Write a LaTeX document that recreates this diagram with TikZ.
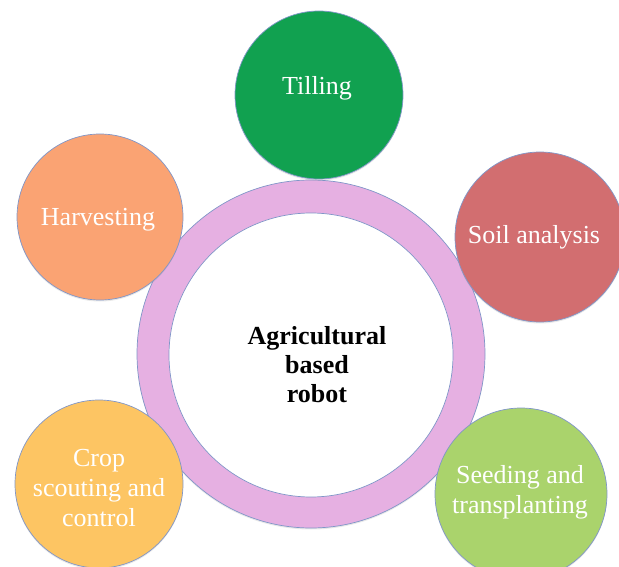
\documentclass[tikz,border=0pt]{standalone}
\usepackage{fontspec}
\setmainfont{Liberation Serif}
\usetikzlibrary{shadows}

\definecolor{edgeblue}{HTML}{8096C8}
\definecolor{ringpink}{HTML}{E6B0E2}
\definecolor{tillgreen}{HTML}{11A150}
\definecolor{harvorange}{HTML}{FAA373}
\definecolor{soilred}{HTML}{D26E70}
\definecolor{cropyellow}{HTML}{FDC563}
\definecolor{seedgreen}{HTML}{AAD36C}

\begin{document}
\begin{tikzpicture}[x=1pt, y=-1pt,
  softshadow/.style={drop shadow={opacity=0.18, shadow xshift=0pt, shadow yshift=-1.5pt}},
  bubble/.style={circle, draw=edgeblue, line width=0.7pt, inner sep=0pt, softshadow},
  bubbletext/.style={text=white, align=center, inner sep=0pt,
    font=\fontsize{26}{30}\selectfont},
  hubtext/.style={text=black, align=center, inner sep=0pt,
    font=\fontsize{26}{29}\selectfont\bfseries}]

\useasboundingbox (0,0) rectangle (619,567);

% central ring and hub
\node[bubble, fill=ringpink, minimum size=348pt] (ring) at (311,354) {};
\node[circle, draw=edgeblue, line width=0.7pt, fill=white, minimum size=284pt,
  inner sep=0pt] (hub) at (311,355) {};
\node[hubtext] (hubT) at (317,365) {Agricultural\\based\\robot};

% surrounding activities
\node[bubble, fill=tillgreen,  minimum size=168pt] (till) at (319,95)  {};
\node[bubble, fill=harvorange, minimum size=166pt] (harv) at (100,217) {};
\node[bubble, fill=soilred,    minimum size=170pt] (soil) at (540,237) {};
\node[bubble, fill=cropyellow, minimum size=168pt] (crop) at (99,484)  {};
\node[bubble, fill=seedgreen,  minimum size=172pt] (seed) at (521,494) {};

\node[bubbletext] (tillT) at (317,88)  {Tilling};
\node[bubbletext] (harvT) at (98,220)  {Harvesting};
\node[bubbletext] (soilT) at (534,237) {Soil analysis};
\node[bubbletext] (cropT) at (99,488)  {Crop\\scouting and\\control};
\node[bubbletext] (seedT) at (520,492) {Seeding and\\transplanting};
\end{tikzpicture}
\end{document}
